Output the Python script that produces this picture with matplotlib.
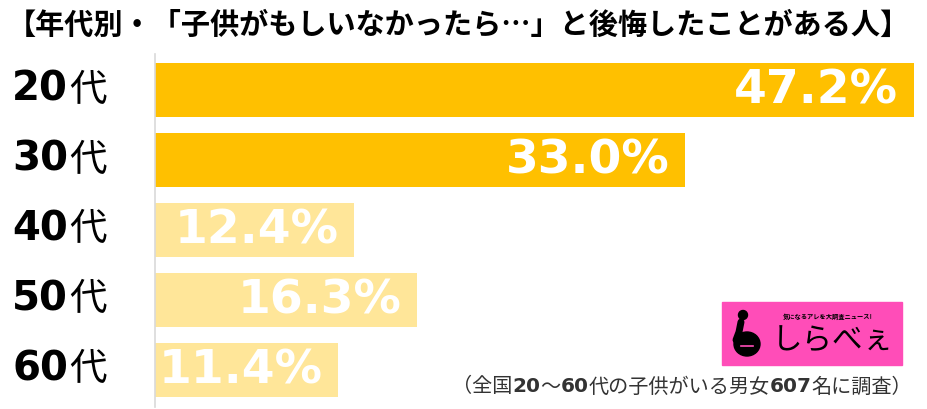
import matplotlib
matplotlib.use("Agg")
import matplotlib.pyplot as plt
from matplotlib.patches import Rectangle, Circle, Ellipse

# データ
categories = ["20", "30", "40", "50", "60"]
values = [47.2, 33.0, 12.4, 16.3, 11.4]
bar_colors = ["#FFC000", "#FFC000", "#FFE699", "#FFE699", "#FFE699"]
title = "【年代別・「子供がもしいなかったら…」と後悔したことがある人】"
note_parts = [("（全国", False), ("20", True), ("～", False), ("60", True),
              ("代の子供がいる男女", False), ("607", True), ("名に調査）", False)]

CJK = "Noto Sans CJK JP"
LAT = "DejaVu Sans"
plt.rcParams['font.family'] = [CJK, LAT]

W, H = 928, 409
fig = plt.figure(figsize=(W / 100, H / 100), dpi=100)
ax = fig.add_axes([155 / W, 1 - 407 / H, 773 / W, 353 / H])

y = list(range(len(categories)))
ax.barh(y, values, height=0.77, color=bar_colors, zorder=2)
ax.set_xlim(0, 773 / 16.07)
ax.set_ylim(4.53, -0.514)

for s in ["top", "right", "bottom"]:
    ax.spines[s].set_visible(False)
ax.spines["left"].set_color("#D9D9D9")
ax.spines["left"].set_linewidth(1.2)
ax.set_xticks([])
ax.set_yticks([])

# 数値ラベル
for yi, v in zip(y, values):
    ax.annotate(f"{v:.1f}%", xy=(v, yi), xytext=(-11, -1), textcoords="offset points",
                ha="right", va="center", color="white", fontsize=34,
                fontweight="bold", family=LAT, zorder=3)

# カテゴリーラベル（数字は太字、「代」は通常）
tr = ax.get_yaxis_transform()
for yi, c in zip(y, categories):
    t = ax.text((68 - 155) / 773, yi, c, transform=tr, ha="right", va="center",
                fontsize=29, fontweight="bold", family=LAT, color="black")
    ax.annotate("代", xy=(1, 0.5), xycoords=t, xytext=(1, 0), textcoords="offset points",
                ha="left", va="center", fontsize=27, family=CJK, color="black")

# タイトル
fig.text(458 / W, 1 - 25 / H, title, ha="center", va="center",
         fontsize=21, fontweight="bold", family=[CJK, LAT], color="black")

# 注記（数字だけ太字）
prev = fig.text(452 / W, 1 - 387 / H, note_parts[0][0], ha="left", va="center",
                fontsize=14.5, family=[CJK, LAT], color="#333333")
for txt, bold in note_parts[1:]:
    prev = plt.annotate(txt, xy=(1, 0.5), xycoords=prev, ha="left", va="center",
                        fontsize=14.5, fontweight="bold" if bold else "normal",
                        family=[LAT, CJK] if bold else [CJK, LAT], color="#333333",
                        annotation_clip=False)

# ロゴ（しらべぇ）
ov = fig.add_axes([0, 0, 1, 1], zorder=5)
ov.set_xlim(0, W)
ov.set_ylim(H, 0)
ov.axis("off")
ov.patch.set_alpha(0)
ov.add_patch(Rectangle((722, 302), 180, 63, color="#FF4DB8"))
ov.add_patch(Circle((743, 315), 4.5, color="black"))
ov.add_patch(Ellipse((747, 344), 26, 24, color="black"))
ov.plot([741, 739, 736], [322, 332, 340], color="black", lw=5, solid_capstyle="round")
ov.plot([741, 753], [346, 346], color="#FF4DB8", lw=1.2)
ov.text(833, 341, "しらべぇ", ha="center", va="center", fontsize=22, family=CJK, color="black")
ov.text(828, 317, "気になるアレを大調査ニュース!", ha="center", va="center", fontsize=4.5,
        fontweight="bold", family=CJK, color="black")

fig.savefig("out.png", dpi=100)
